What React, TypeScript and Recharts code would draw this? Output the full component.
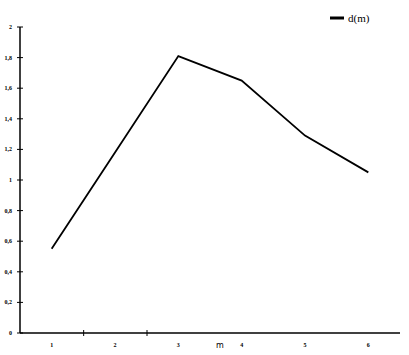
import { LineChart, Line, XAxis, YAxis, Label } from 'recharts';

const categories = ['1', '2', '3', '4', '5', '6'];
const dValues = [0.55, 1.18, 1.81, 1.65, 1.29, 1.05];
const yTicks = [0, 0.2, 0.4, 0.6, 0.8, 1, 1.2, 1.4, 1.6, 1.8, 2];

const data = categories.map((m, i) => ({ m, d: dValues[i] }));

const fmt = (v: number) => String(v).replace('.', ',');

const XTick = (props: any) => {
  const { x, y, payload, index } = props;
  return (
    <g>
      {index < 2 && (
        <line x1={x + 32} x2={x + 32} y1={y - 3} y2={y + 3} stroke="#000" strokeWidth={1} />
      )}
      <text x={x} y={y + 14} textAnchor="middle" fontSize={6} fontWeight="bold" fill="#000">
        {payload.value}
      </text>
    </g>
  );
};

const YTick = (props: any) => {
  const { x, y, payload } = props;
  return (
    <g>
      <line x1={x - 3} x2={x + 3} y1={y} y2={y} stroke="#000" strokeWidth={1} />
      <text x={x - 8} y={y + 2} textAnchor="end" fontSize={6} fontWeight="bold" fill="#000">
        {fmt(payload.value)}
      </text>
    </g>
  );
};

const AxisName = (props: any) => {
  const { viewBox } = props;
  const cx = viewBox.x + viewBox.width / 2 + 10;
  return (
    <text x={cx} y={viewBox.y + 15} textAnchor="middle" fontSize={8} fontFamily="DejaVu Sans, sans-serif" fill="#000">
      m
    </text>
  );
};

export default function App() {
  return (
    <div style={{ position: 'fixed', left: 0, top: 0, width: 409, height: 355, background: '#fff' }}>
      <LineChart width={409} height={355} data={data} margin={{ top: 27, right: 9, bottom: 0, left: 0 }}>
        <XAxis
          dataKey="m"
          scale="band"
          height={22}
          axisLine={{ stroke: '#000', strokeWidth: 1.5 }}
          tickLine={false}
          tickSize={0}
          tickMargin={0}
          tick={<XTick />}
          interval={0}
        >
          <Label content={<AxisName />} />
        </XAxis>
        <YAxis
          width={20}
          domain={[0, 2]}
          ticks={yTicks}
          axisLine={{ stroke: '#000', strokeWidth: 1.5 }}
          tickLine={false}
          tickSize={0}
          tickMargin={0}
          tick={<YTick />}
          interval={0}
        />
        <Line
          dataKey="d"
          name="d(m)"
          type="linear"
          stroke="#000"
          strokeWidth={1.8}
          dot={false}
          isAnimationActive={false}
        />
      </LineChart>
      <div style={{ position: 'absolute', left: 328, top: 10, display: 'flex', alignItems: 'center' }}>
        <svg width={60} height={16}>
          <line x1={2} x2={16} y1={8} y2={8} stroke="#000" strokeWidth={3} />
          <text x={20} y={12} fontSize={11} fontFamily="Liberation Serif, serif" fill="#000">
            d(m)
          </text>
        </svg>
      </div>
    </div>
  );
}
